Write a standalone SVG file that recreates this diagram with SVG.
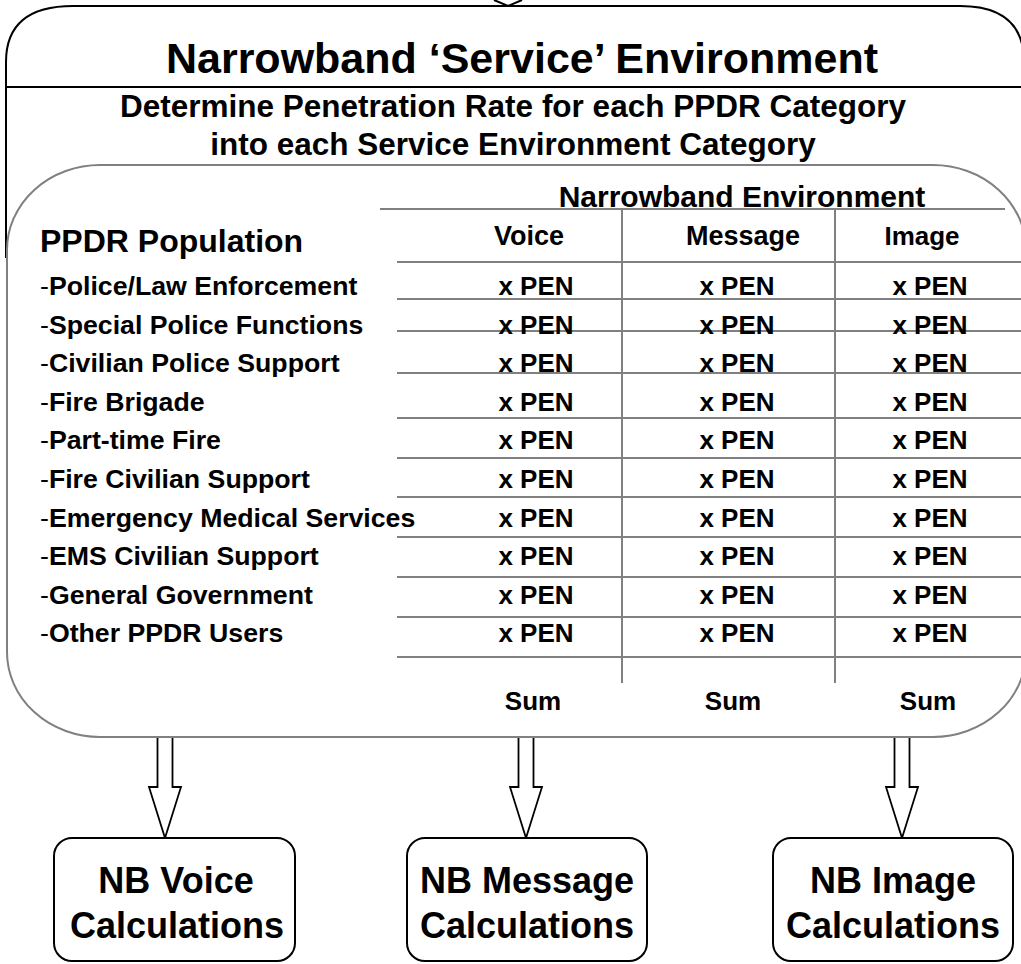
<svg xmlns="http://www.w3.org/2000/svg" width="1021" height="964" viewBox="0 0 1021 964">
<style>
text{font-family:"Liberation Sans",Arial,sans-serif;font-weight:bold;fill:#000}
.blk{fill:none;stroke:#000;stroke-width:2}
.gry{stroke:#808080;stroke-width:2;fill:none}
.c{text-anchor:middle}
.lab{font-size:26.7px}
.d{font-weight:normal}
.pen{font-size:26px;text-anchor:middle}
.hd{font-size:27px;text-anchor:middle}
.box{fill:#fff;stroke:#000;stroke-width:2}
.arr{fill:#fff;stroke:#000;stroke-width:1.8;stroke-linejoin:miter}
</style>
<rect width="1021" height="964" fill="#fff"/>
<g id="outer">
<path class="blk" d="M6,258 L6,62 Q6,6 73,6 L960,6 Q1024,6 1024,62 L1024,740"/>
<line class="blk" x1="6" y1="87" x2="1021" y2="87"/>
<text class="c" x="522" y="73" font-size="43">Narrowband ‘Service’ Environment</text>
<text class="c" x="513" y="117" font-size="31.5">Determine Penetration Rate for each PPDR Category</text>
<text class="c" x="513" y="155" font-size="31.5">into each Service Environment Category</text>
</g>
<g id="table">
<rect x="7" y="165" width="1019" height="572" rx="93" ry="85" fill="#fff" stroke="#808080" stroke-width="2"/>
<text class="c" x="742" y="207" font-size="30">Narrowband Environment</text>
<line class="gry" x1="380" y1="209" x2="1005" y2="209"/>
<line class="gry" x1="622" y1="209" x2="622" y2="683"/>
<line class="gry" x1="835" y1="209" x2="835" y2="683"/>
<g class="gry">
<line x1="397" y1="262" x2="1021" y2="262"/>
<line x1="397" y1="299" x2="1021" y2="299"/>
<line x1="397" y1="331" x2="1021" y2="331"/>
<line x1="397" y1="373" x2="1021" y2="373"/>
<line x1="397" y1="418" x2="1021" y2="418"/>
<line x1="397" y1="458" x2="1021" y2="458"/>
<line x1="397" y1="497" x2="1021" y2="497"/>
<line x1="397" y1="537" x2="1021" y2="537"/>
<line x1="397" y1="577" x2="1021" y2="577"/>
<line x1="397" y1="617" x2="1021" y2="617"/>
<line x1="397" y1="657" x2="1021" y2="657"/>
</g>
<text x="40" y="252" font-size="32">PPDR Population</text>
<text class="hd" x="529" y="245">Voice</text>
<text class="hd" x="743" y="245">Message</text>
<text class="pen" x="922" y="245">Image</text>
<g class="lab">
<text x="40" y="295"><tspan class="d">-</tspan>Police/Law Enforcement</text>
<text x="40" y="334"><tspan class="d">-</tspan>Special Police Functions</text>
<text x="40" y="372"><tspan class="d">-</tspan>Civilian Police Support</text>
<text x="40" y="411"><tspan class="d">-</tspan>Fire Brigade</text>
<text x="40" y="449"><tspan class="d">-</tspan>Part-time Fire</text>
<text x="40" y="488"><tspan class="d">-</tspan>Fire Civilian Support</text>
<text x="40" y="527"><tspan class="d">-</tspan>Emergency Medical Services</text>
<text x="40" y="565"><tspan class="d">-</tspan>EMS Civilian Support</text>
<text x="40" y="604"><tspan class="d">-</tspan>General Government</text>
<text x="40" y="642"><tspan class="d">-</tspan>Other PPDR Users</text>
</g>
<g>
<text class="pen" x="536" y="295">x PEN</text><text class="pen" x="737" y="295">x PEN</text><text class="pen" x="930" y="295">x PEN</text>
<text class="pen" x="536" y="334">x PEN</text><text class="pen" x="737" y="334">x PEN</text><text class="pen" x="930" y="334">x PEN</text>
<text class="pen" x="536" y="372">x PEN</text><text class="pen" x="737" y="372">x PEN</text><text class="pen" x="930" y="372">x PEN</text>
<text class="pen" x="536" y="411">x PEN</text><text class="pen" x="737" y="411">x PEN</text><text class="pen" x="930" y="411">x PEN</text>
<text class="pen" x="536" y="449">x PEN</text><text class="pen" x="737" y="449">x PEN</text><text class="pen" x="930" y="449">x PEN</text>
<text class="pen" x="536" y="488">x PEN</text><text class="pen" x="737" y="488">x PEN</text><text class="pen" x="930" y="488">x PEN</text>
<text class="pen" x="536" y="527">x PEN</text><text class="pen" x="737" y="527">x PEN</text><text class="pen" x="930" y="527">x PEN</text>
<text class="pen" x="536" y="565">x PEN</text><text class="pen" x="737" y="565">x PEN</text><text class="pen" x="930" y="565">x PEN</text>
<text class="pen" x="536" y="604">x PEN</text><text class="pen" x="737" y="604">x PEN</text><text class="pen" x="930" y="604">x PEN</text>
<text class="pen" x="536" y="642">x PEN</text><text class="pen" x="737" y="642">x PEN</text><text class="pen" x="930" y="642">x PEN</text>
</g>
<text class="pen" x="533" y="710">Sum</text>
<text class="pen" x="733" y="710">Sum</text>
<text class="pen" x="928" y="710">Sum</text>
</g>
<g id="connectors">
<polyline class="blk" points="494,0 508,6 522,0"/>
<polyline class="arr" points="157.5,738 157.5,787 149,787 165,838 181,787 172.5,787 172.5,738"/>
<polyline class="arr" points="518.5,738 518.5,787 510,787 526,838 542,787 533.5,787 533.5,738"/>
<polyline class="arr" points="894.5,738 894.5,787 886,787 902,838 918,787 909.5,787 909.5,738"/>
</g>
<g id="nb-voice">
<rect class="box" x="54" y="838" width="241" height="123" rx="18"/>
<text class="c" x="176" y="893" font-size="36">NB Voice</text>
<text class="c" x="177" y="938" font-size="36">Calculations</text>
</g>
<g id="nb-message">
<rect class="box" x="407" y="838" width="240" height="123" rx="18"/>
<text class="c" x="527" y="893" font-size="36">NB Message</text>
<text class="c" x="527" y="938" font-size="36">Calculations</text>
</g>
<g id="nb-image">
<rect class="box" x="773" y="838" width="240" height="123" rx="18"/>
<text class="c" x="893" y="893" font-size="36">NB Image</text>
<text class="c" x="893" y="938" font-size="36">Calculations</text>
</g>
</svg>
